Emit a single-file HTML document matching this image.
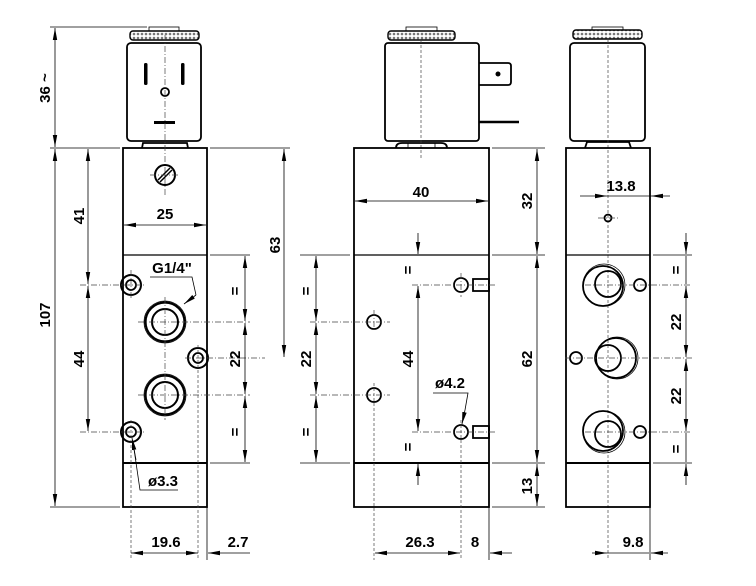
<!DOCTYPE html>
<html><head><meta charset="utf-8"><style>
html,body{margin:0;padding:0;background:#fff}
svg{display:block}
text{font-family:"Liberation Sans",Arial,sans-serif;font-size:15px;font-weight:bold;fill:#000}
.o{fill:none;stroke:#000;stroke-width:1.8}
.t{fill:none;stroke:#000;stroke-width:0.8}
.c{fill:none;stroke:#444;stroke-width:0.7;stroke-dasharray:6 2 1 2}
.d{fill:none;stroke:#444;stroke-width:0.7;stroke-dasharray:3 2}
.m{fill:none;stroke:#000;stroke-width:0.8;marker-start:url(#a);marker-end:url(#a)}
.me{fill:none;stroke:#000;stroke-width:0.8;marker-end:url(#a)}
</style></head><body>
<svg width="756" height="586" viewBox="0 0 756 586" xmlns="http://www.w3.org/2000/svg">
<defs>
<marker id="a" viewBox="0 0 12 6" markerWidth="12" markerHeight="6" refX="12" refY="3" orient="auto-start-reverse" markerUnits="userSpaceOnUse"><path d="M0,0.8 L12,3 L0,5.2z" fill="#000"/></marker>
<pattern id="h" width="4" height="4" patternUnits="userSpaceOnUse"><rect width="4" height="4" fill="#fff"/><circle cx="2" cy="2" r="1.3" fill="#777"/></pattern>
</defs>

<!-- ============ LEFT VIEW ============ -->
<rect x="149" y="27" width="30" height="5" class="t"/>
<rect x="130" y="31" width="69" height="9" rx="3" fill="url(#h)" stroke="#000" stroke-width="1.4"/>
<rect x="127" y="43" width="74" height="98" rx="4" class="o"/>
<rect x="144" y="63" width="3.5" height="22" rx="1.5" fill="#000"/>
<rect x="181" y="63" width="3.5" height="22" rx="1.5" fill="#000"/>
<circle cx="165" cy="92" r="4" class="o"/>
<rect x="154" y="121" width="21" height="3" fill="#000"/>
<path d="M142,148 L143,143 L187,143 L188,148" class="o"/>
<rect x="123" y="148" width="84" height="359" class="o"/>
<line x1="123" y1="255" x2="207" y2="255" stroke="#000" stroke-width="1.3"/>
<line x1="123" y1="463" x2="207" y2="463" stroke="#000" stroke-width="2"/>
<line x1="165" y1="35" x2="165" y2="195" class="c"/>
<circle cx="165" cy="175" r="10" stroke="#000" stroke-width="2" fill="none"/>
<line x1="158" y1="180" x2="170" y2="168" stroke="#000" stroke-width="1.5"/>
<line x1="160" y1="182" x2="172" y2="170" stroke="#000" stroke-width="1.5"/>
<line x1="150" y1="175" x2="180" y2="175" class="c"/>
<line x1="124" y1="225" x2="206" y2="225" class="m"/>
<text x="165" y="219" text-anchor="middle">25</text>
<circle cx="131" cy="285" r="10" stroke="#000" stroke-width="2" fill="none"/><circle cx="131" cy="285" r="5" class="o"/>
<circle cx="165" cy="322" r="21" class="t"/><circle cx="165" cy="322" r="19.5" stroke="#000" stroke-width="2.2" fill="none"/><circle cx="165" cy="322" r="13" stroke="#000" stroke-width="2" fill="none"/>
<circle cx="198" cy="358" r="10" stroke="#000" stroke-width="2" fill="none"/><circle cx="198" cy="358" r="5" class="o"/>
<circle cx="165" cy="395" r="21" class="t"/><circle cx="165" cy="395" r="19.5" stroke="#000" stroke-width="2.2" fill="none"/><circle cx="165" cy="395" r="13" stroke="#000" stroke-width="2" fill="none"/>
<circle cx="131" cy="432" r="10" stroke="#000" stroke-width="2" fill="none"/><circle cx="131" cy="432" r="5" class="o"/>
<line x1="80" y1="285" x2="145" y2="285" class="c"/>
<line x1="80" y1="432" x2="145" y2="432" class="c"/>
<line x1="138" y1="322" x2="250" y2="322" class="c"/>
<line x1="138" y1="395" x2="250" y2="395" class="c"/>
<line x1="165" y1="297" x2="165" y2="420" class="c"/>
<line x1="185" y1="358" x2="265" y2="358" class="c"/>
<line x1="131" y1="270" x2="131" y2="298" class="c"/>
<line x1="198" y1="345" x2="198" y2="560" class="d"/>
<line x1="131" y1="420" x2="131" y2="560" class="d"/>
<line x1="207" y1="507" x2="207" y2="560" class="t"/>
<text x="172" y="273" text-anchor="middle">G1/4"</text>
<polyline points="150,277 192,277 196,295" class="t"/>
<line x1="196" y1="295" x2="184" y2="304" class="me"/>
<text x="163" y="486" text-anchor="middle">ø3.3</text>
<polyline points="178,490 140,490 133,442" class="t"/>
<line x1="136" y1="460" x2="132" y2="438" class="me"/>
<line x1="50" y1="27" x2="147" y2="27" class="t"/>
<line x1="50" y1="148" x2="120" y2="148" class="t"/>
<line x1="210" y1="148" x2="290" y2="148" class="t"/>
<line x1="50" y1="507" x2="120" y2="507" class="t"/>
<line x1="55" y1="28" x2="55" y2="147" class="m"/>
<line x1="55" y1="149" x2="55" y2="506" class="m"/>
<text transform="translate(50,88) rotate(-90)" text-anchor="middle">36 ~</text>
<text transform="translate(50,315) rotate(-90)" text-anchor="middle">107</text>
<line x1="88" y1="149" x2="88" y2="284" class="m"/>
<line x1="88" y1="286" x2="88" y2="431" class="m"/>
<text transform="translate(84,216) rotate(-90)" text-anchor="middle">41</text>
<text transform="translate(84,359) rotate(-90)" text-anchor="middle">44</text>
<line x1="284" y1="149" x2="284" y2="357" class="m"/>
<text transform="translate(280,245) rotate(-90)" text-anchor="middle">63</text>
<line x1="210" y1="255" x2="250" y2="255" class="t"/>
<line x1="210" y1="463" x2="250" y2="463" class="t"/>
<line x1="245" y1="256" x2="245" y2="321" class="m"/>
<line x1="245" y1="323" x2="245" y2="394" class="m"/>
<line x1="245" y1="396" x2="245" y2="462" class="m"/>
<text transform="translate(240,291) rotate(-90)" text-anchor="middle">=</text>
<text transform="translate(240,359) rotate(-90)" text-anchor="middle">22</text>
<text transform="translate(240,432) rotate(-90)" text-anchor="middle">=</text>
<line x1="131" y1="553" x2="198" y2="553" class="m"/>
<line x1="250" y1="553" x2="208" y2="553" class="me"/>
<text x="166" y="547" text-anchor="middle">19.6</text>
<text x="238" y="547" text-anchor="middle">2.7</text>

<!-- ============ MIDDLE VIEW ============ -->
<rect x="406" y="27" width="31" height="5" class="t"/>
<rect x="388" y="31" width="67" height="9" rx="3" fill="url(#h)" stroke="#000" stroke-width="1.4"/>
<rect x="385" y="43" width="94" height="98" rx="3" class="o"/>
<path d="M479,63 L508,63 Q511,63 511,66 L511,82 Q511,85 508,85 L479,85" class="o"/>
<circle cx="498" cy="74" r="2.5" fill="#000"/>
<line x1="479" y1="122" x2="519" y2="122" stroke="#000" stroke-width="2.5"/>
<path d="M396,148 Q396,143 402,143 L441,143 Q447,143 447,148" class="o"/>
<line x1="408" y1="143" x2="408" y2="148" class="t"/><line x1="435" y1="143" x2="435" y2="148" class="t"/>
<line x1="421" y1="40" x2="421" y2="160" class="d"/>
<rect x="354" y="148" width="135" height="359" class="o"/>
<line x1="354" y1="255" x2="489" y2="255" stroke="#000" stroke-width="1.3"/>
<line x1="354" y1="463" x2="489" y2="463" stroke="#000" stroke-width="2"/>
<line x1="355" y1="201" x2="488" y2="201" class="m"/>
<text x="421" y="197" text-anchor="middle">40</text>
<circle cx="374" cy="322" r="7" class="o"/>
<circle cx="374" cy="395" r="7" class="o"/>
<circle cx="461" cy="285" r="7" class="o"/>
<rect x="473" y="279" width="16" height="12" class="o"/>
<circle cx="461" cy="432" r="7" class="o"/>
<rect x="473" y="426" width="16" height="12" class="o"/>
<line x1="310" y1="322" x2="390" y2="322" class="c"/>
<line x1="310" y1="395" x2="390" y2="395" class="c"/>
<line x1="374" y1="310" x2="374" y2="332" class="c"/>
<line x1="374" y1="383" x2="374" y2="560" class="d"/>
<line x1="412" y1="285" x2="496" y2="285" class="c"/>
<line x1="412" y1="432" x2="496" y2="432" class="c"/>
<line x1="461" y1="273" x2="461" y2="297" class="c"/>
<line x1="461" y1="420" x2="461" y2="560" class="d"/>
<line x1="489" y1="507" x2="489" y2="560" class="t"/>
<line x1="418" y1="233" x2="418" y2="254" class="me"/>
<line x1="418" y1="286" x2="418" y2="431" class="m"/>
<line x1="418" y1="485" x2="418" y2="464" class="me"/>
<text transform="translate(413,270) rotate(-90)" text-anchor="middle">=</text>
<text transform="translate(413,359) rotate(-90)" text-anchor="middle">44</text>
<text transform="translate(413,447) rotate(-90)" text-anchor="middle">=</text>
<text x="450" y="388" text-anchor="middle">ø4.2</text>
<polyline points="433,393 468,393 465,410" class="t"/>
<line x1="465" y1="410" x2="462" y2="424" class="me"/>
<line x1="300" y1="255" x2="350" y2="255" class="t"/>
<line x1="300" y1="463" x2="350" y2="463" class="t"/>
<line x1="316" y1="256" x2="316" y2="321" class="m"/>
<line x1="316" y1="323" x2="316" y2="394" class="m"/>
<line x1="316" y1="396" x2="316" y2="462" class="m"/>
<text transform="translate(311,291) rotate(-90)" text-anchor="middle">=</text>
<text transform="translate(311,359) rotate(-90)" text-anchor="middle">22</text>
<text transform="translate(311,432) rotate(-90)" text-anchor="middle">=</text>
<line x1="492" y1="148" x2="545" y2="148" class="t"/>
<line x1="492" y1="255" x2="545" y2="255" class="t"/>
<line x1="492" y1="463" x2="545" y2="463" class="t"/>
<line x1="492" y1="507" x2="545" y2="507" class="t"/>
<line x1="537" y1="149" x2="537" y2="254" class="m"/>
<line x1="537" y1="256" x2="537" y2="462" class="m"/>
<line x1="537" y1="464" x2="537" y2="506" class="m"/>
<text transform="translate(532,201) rotate(-90)" text-anchor="middle">32</text>
<text transform="translate(532,359) rotate(-90)" text-anchor="middle">62</text>
<text transform="translate(532,486) rotate(-90)" text-anchor="middle">13</text>
<line x1="375" y1="553" x2="460" y2="553" class="m"/>
<line x1="512" y1="553" x2="490" y2="553" class="me"/>
<text x="420" y="547" text-anchor="middle">26.3</text>
<text x="475" y="547" text-anchor="middle">8</text>

<!-- ============ RIGHT VIEW ============ -->
<rect x="592" y="27" width="31" height="5" class="t"/>
<rect x="573" y="30" width="69" height="9" rx="3" fill="url(#h)" stroke="#000" stroke-width="1.4"/>
<rect x="570" y="43" width="75" height="98" rx="4" class="o"/>
<path d="M585,148 L587,142 L629,142 L631,148" class="o"/>
<line x1="608" y1="40" x2="608" y2="560" class="d"/>
<rect x="566" y="148" width="84" height="359" class="o"/>
<line x1="566" y1="255" x2="650" y2="255" stroke="#000" stroke-width="1.3"/>
<line x1="566" y1="463" x2="650" y2="463" stroke="#000" stroke-width="2"/>
<line x1="580" y1="196" x2="607" y2="196" class="me"/>
<line x1="670" y1="196" x2="651" y2="196" class="me"/>
<line x1="607" y1="196" x2="651" y2="196" class="t"/>
<text x="621" y="191" text-anchor="middle">13.8</text>
<circle cx="608" cy="218" r="3.5" class="o"/>
<line x1="598" y1="218" x2="618" y2="218" class="c"/>
<circle cx="604" cy="285" r="21" class="t"/><circle cx="603" cy="286" r="20" class="o"/><circle cx="608" cy="284" r="13" class="o"/>
<circle cx="617" cy="358" r="21" class="t"/><circle cx="616" cy="358" r="20" class="o"/><circle cx="608" cy="358" r="13" class="o"/>
<circle cx="604" cy="432" r="21" class="t"/><circle cx="603" cy="431" r="20" class="o"/><circle cx="608" cy="434" r="13" class="o"/>
<circle cx="640" cy="285" r="6" class="o"/>
<circle cx="576" cy="358" r="6" class="o"/>
<circle cx="640" cy="432" r="6" class="o"/>
<line x1="585" y1="285" x2="692" y2="285" class="c"/>
<line x1="565" y1="358" x2="692" y2="358" class="c"/>
<line x1="585" y1="432" x2="692" y2="432" class="c"/>
<line x1="653" y1="255" x2="692" y2="255" class="t"/>
<line x1="653" y1="463" x2="692" y2="463" class="t"/>
<line x1="686" y1="233" x2="686" y2="254" class="me"/>
<line x1="686" y1="256" x2="686" y2="284" class="t"/>
<line x1="686" y1="286" x2="686" y2="357" class="m"/>
<line x1="686" y1="359" x2="686" y2="431" class="m"/>
<line x1="686" y1="433" x2="686" y2="462" class="t"/>
<line x1="686" y1="485" x2="686" y2="464" class="me"/>
<text transform="translate(681,270) rotate(-90)" text-anchor="middle">=</text>
<text transform="translate(681,322) rotate(-90)" text-anchor="middle">22</text>
<text transform="translate(681,396) rotate(-90)" text-anchor="middle">22</text>
<text transform="translate(681,449) rotate(-90)" text-anchor="middle">=</text>
<line x1="650" y1="507" x2="650" y2="560" class="t"/>
<line x1="592" y1="553" x2="607" y2="553" class="me"/>
<line x1="607" y1="553" x2="649" y2="553" class="t"/>
<line x1="668" y1="553" x2="651" y2="553" class="me"/>
<text x="633" y="547" text-anchor="middle">9.8</text>
</svg>
</body></html>
